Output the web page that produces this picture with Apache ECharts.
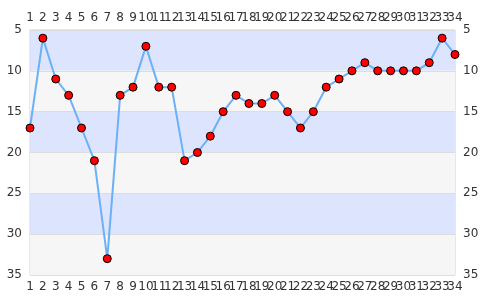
<!DOCTYPE html>
<html><head><meta charset="utf-8">
<script src="https://cdn.jsdelivr.net/npm/echarts@6/dist/echarts.min.js"></script>
<style>html,body{margin:0;padding:0;background:#fff}#c{width:485px;height:300px}</style>
</head><body><div id="c"></div>
<script>
const categories = ['1','2','3','4','5','6','7','8','9','10','11','12','13','14','15','16','17','18','19','20','21','22','23','24','25','26','27','28','29','30','31','32','33','34'];
const values = [17,6,11,13,17,21,33,13,12,7,12,12,21,20,18,15,13,14,14,13,15,17,15,12,11,10,9,10,10,10,10,9,6,8];
const yMin = 5, yMax = 35, yStep = 5;

const chart = echarts.init(document.getElementById('c'), null, {renderer:'canvas'});
const labelStyle = {color:'#333', fontSize:12, fontFamily:'DejaVu Sans', margin:8};
const xCommon = {
  type:'category', data:categories, boundaryGap:false,
  axisLine:{show:false}, axisTick:{show:false},
  splitLine:{show:false},
  axisLabel:Object.assign({interval:0}, labelStyle, {margin:6})
};
const yCommon = {
  type:'value', inverse:true, min:yMin, max:yMax, interval:yStep,
  axisLine:{show:false}, axisTick:{show:false},
  axisLabel:Object.assign({}, labelStyle)
};
chart.setOption({
  animation:false,
  grid:{left:30, right:30, top:30, bottom:25, show:true, borderColor:'#d0d0d0', borderWidth:1, backgroundColor:'transparent'},
  xAxis:[
    Object.assign({}, xCommon, {position:'bottom'}),
    Object.assign({}, xCommon, {position:'top'})
  ],
  yAxis:[
    Object.assign({}, yCommon, {position:'left',
      splitLine:{show:true, lineStyle:{color:'#dddddd'}},
      splitArea:{show:true, areaStyle:{color:['#dde4fd','#f6f6f6']}}}),
    Object.assign({}, yCommon, {position:'right', splitLine:{show:false}})
  ],
  series:[{
    type:'line', data:values, xAxisIndex:0, yAxisIndex:0,
    lineStyle:{color:'#6cb0f6', width:2},
    symbol:'circle', symbolSize:8,
    itemStyle:{color:'#ff0000', borderColor:'#000', borderWidth:1},
    clip:false
  }]
});
</script></body></html>
